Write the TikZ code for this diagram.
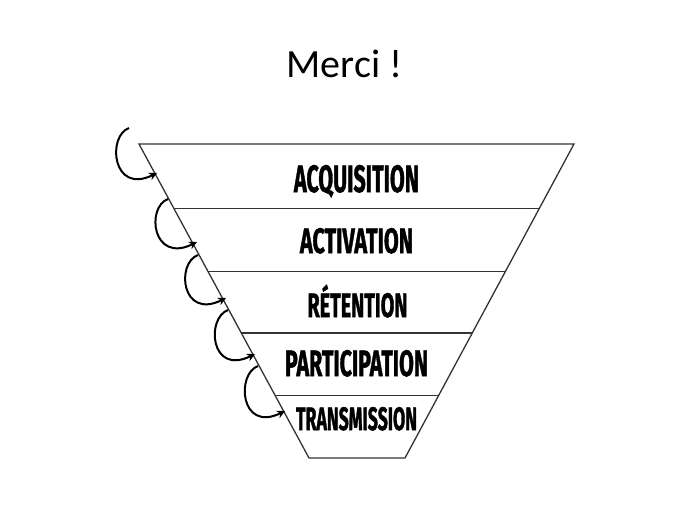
\documentclass[tikz,border=0pt]{standalone}
\usepackage{fontspec}
\usepackage{graphicx}
\setmainfont{Carlito}
\newfontfamily\labfont{Fira Sans}[FakeBold=1.6]
\usetikzlibrary{calc,arrows.meta}
\newcommand{\funnellabel}[3]{\resizebox{#1pt}{#2pt}{\labfont\bfseries #3}}
\begin{document}
\begin{tikzpicture}[x=1pt,y=-1pt,
  edge/.style={draw=black!80, line width=1.3pt},
  looparrow/.style={draw=black, line width=2pt, -{Stealth[length=8pt,width=8pt]}},
  lab/.style={anchor=base, inner sep=0pt}]
\path[use as bounding box] (0,0) rectangle (689,517);
\fill[white] (0,0) rectangle (689,517);
\node (title) at (344.5,77) [anchor=base, inner sep=0pt, font=\fontsize{40}{44}\selectfont] {Merci !};
\coordinate (TL) at (139,144);
\coordinate (TR) at (574,144);
\coordinate (BR) at (405,458);
\coordinate (BL) at (309,458);
\draw[edge] (TL) -- (TR) -- (BR) -- (BL) -- cycle;
\foreach \t in {0.205,0.405,0.602,0.801}{
  \draw[edge] ($(TL)!\t!(BL)$) -- ($(TR)!\t!(BR)$);
}
\node[lab] (acq) at (356.5,192) {\funnellabel{125}{27}{ACQUISITION}};
\node[lab] (act) at (356.5,253) {\funnellabel{113}{25}{ACTIVATION}};
\node[lab] (ret) at (357.5,317) {\funnellabel{100}{24}{R\smash{É}TENTION}};
\node[lab] (par) at (356.5,376) {\funnellabel{143}{26}{PARTICIPATION}};
\node[lab] (tra) at (356.5,430) {\funnellabel{121}{23}{TRANSMISSION}};
\coordinate (s1) at (129,128); \coordinate (e1) at (157,173);
\coordinate (s2) at (168,199); \coordinate (e2) at (197,242);
\coordinate (s3) at (198,255); \coordinate (e3) at (226,298);
\coordinate (s4) at (228,310); \coordinate (e4) at (255,354);
\coordinate (s5) at (258,366); \coordinate (e5) at (285,411);
\foreach \i in {1,...,5}{
  \draw[looparrow] (s\i) .. controls +(-22,8) and +(-45,22) .. (e\i);
}
\end{tikzpicture}
\end{document}
